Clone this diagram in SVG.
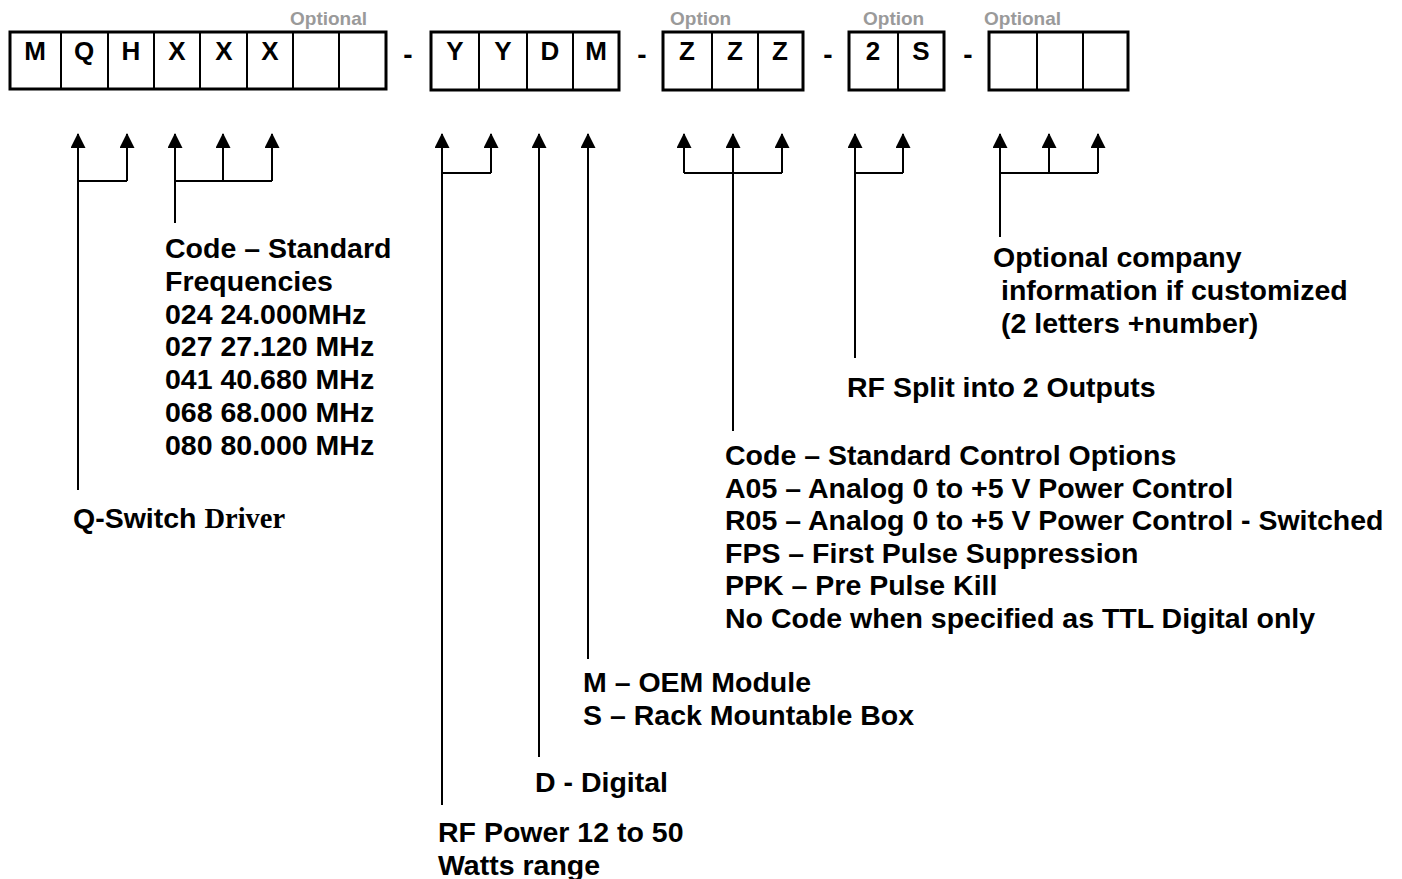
<svg xmlns="http://www.w3.org/2000/svg" width="1402" height="879" viewBox="0 0 1402 879">
<style>
text{font-family:"Liberation Sans",Arial,sans-serif;font-weight:bold;fill:#000}
.lbl{font-size:28.5px}
.cell{font-size:26px;text-anchor:middle}
.opt{font-size:19px;fill:#9a9a9a}
.dash{font-size:28px;text-anchor:middle}
.box{fill:#fff;stroke:#000;stroke-width:3}
.div{stroke:#000;stroke-width:2}
.con{fill:none;stroke:#000;stroke-width:2}
.tnr{font-family:"Liberation Serif","Times New Roman",serif}
</style>
<defs>
<marker id="ah" viewBox="0 0 15 15" refX="14" refY="7.5" markerWidth="15" markerHeight="15" markerUnits="userSpaceOnUse" orient="auto">
<path d="M0,0 L15,7.5 L0,15 Z" fill="#000"/>
</marker>
</defs>
<rect width="1402" height="879" fill="#fff"/>

<g id="node-mqh">
<rect class="box" x="10" y="32" width="376" height="57"/>
<path class="div" d="M61,32V89M108,32V89M154,32V89M200,32V89M247,32V89M293,32V89M339,32V89"/>
<text class="cell" x="35" y="60">M</text>
<text class="cell" x="84" y="60">Q</text>
<text class="cell" x="131" y="60">H</text>
<text class="cell" x="177" y="60">X</text>
<text class="cell" x="224" y="60">X</text>
<text class="cell" x="270" y="60">X</text>
<text class="opt" x="290" y="25">Optional</text>
</g>
<text class="dash" x="408" y="64">-</text>
<g id="node-yydm">
<rect class="box" x="431" y="32" width="188" height="58"/>
<path class="div" d="M479,32V90M527,32V90M573,32V90"/>
<text class="cell" x="455" y="60">Y</text>
<text class="cell" x="503" y="60">Y</text>
<text class="cell" x="550" y="60">D</text>
<text class="cell" x="596" y="60">M</text>
</g>
<text class="dash" x="642" y="64">-</text>
<g id="node-zzz">
<rect class="box" x="663" y="32" width="140" height="58"/>
<path class="div" d="M712,32V90M758,32V90"/>
<text class="cell" x="687" y="60">Z</text>
<text class="cell" x="735" y="60">Z</text>
<text class="cell" x="780" y="60">Z</text>
<text class="opt" x="670" y="25">Option</text>
</g>
<text class="dash" x="828" y="64">-</text>
<g id="node-2s">
<rect class="box" x="849" y="32" width="95" height="58"/>
<path class="div" d="M898,32V90"/>
<text class="cell" x="873" y="60">2</text>
<text class="cell" x="921" y="60">S</text>
<text class="opt" x="863" y="25">Option</text>
</g>
<text class="dash" x="968" y="64">-</text>
<g id="node-custom">
<rect class="box" x="989" y="32" width="139" height="58"/>
<path class="div" d="M1037,32V90M1083,32V90"/>
<text class="opt" x="984" y="25">Optional</text>
</g>

<g id="connectors">
<path class="con" d="M78,490V134" marker-end="url(#ah)"/>
<path class="con" d="M127,181V134" marker-end="url(#ah)"/>
<path class="con" d="M78,181H127"/>
<path class="con" d="M175,223V134" marker-end="url(#ah)"/>
<path class="con" d="M223,181V134" marker-end="url(#ah)"/>
<path class="con" d="M272,181V134" marker-end="url(#ah)"/>
<path class="con" d="M175,181H272"/>
<path class="con" d="M442,805V134" marker-end="url(#ah)"/>
<path class="con" d="M491,173V134" marker-end="url(#ah)"/>
<path class="con" d="M442,173H491"/>
<path class="con" d="M539,757V134" marker-end="url(#ah)"/>
<path class="con" d="M588,659V134" marker-end="url(#ah)"/>
<path class="con" d="M684,173V134" marker-end="url(#ah)"/>
<path class="con" d="M733,431V134" marker-end="url(#ah)"/>
<path class="con" d="M782,173V134" marker-end="url(#ah)"/>
<path class="con" d="M684,173H782"/>
<path class="con" d="M855,358V134" marker-end="url(#ah)"/>
<path class="con" d="M903,173V134" marker-end="url(#ah)"/>
<path class="con" d="M855,173H903"/>
<path class="con" d="M1000,237V134" marker-end="url(#ah)"/>
<path class="con" d="M1049,173V134" marker-end="url(#ah)"/>
<path class="con" d="M1098,173V134" marker-end="url(#ah)"/>
<path class="con" d="M1000,173H1098"/>
</g>

<g id="label-qswitch">
<text class="lbl" x="73" y="528">Q-Switch <tspan class="tnr">Driver</tspan></text>
</g>
<g id="label-freq">
<text class="lbl" x="165" y="258">Code – Standard</text>
<text class="lbl" x="165" y="291">Frequencies</text>
<text class="lbl" x="165" y="324">024 24.000MHz</text>
<text class="lbl" x="165" y="356">027 27.120 MHz</text>
<text class="lbl" x="165" y="389">041 40.680 MHz</text>
<text class="lbl" x="165" y="422">068 68.000 MHz</text>
<text class="lbl" x="165" y="455">080 80.000 MHz</text>
</g>
<g id="label-rfpower">
<text class="lbl" x="438" y="842">RF Power 12 to 50</text>
<text class="lbl" x="438" y="875">Watts range</text>
</g>
<g id="label-digital">
<text class="lbl" x="535" y="792">D - Digital</text>
</g>
<g id="label-module">
<text class="lbl" x="583" y="692">M – OEM Module</text>
<text class="lbl" x="583" y="725">S – Rack Mountable Box</text>
</g>
<g id="label-control">
<text class="lbl" x="725" y="465">Code – Standard Control Options</text>
<text class="lbl" x="725" y="498">A05 – Analog 0 to +5 V Power Control</text>
<text class="lbl" x="725" y="530">R05 – Analog 0 to +5 V Power Control - Switched</text>
<text class="lbl" x="725" y="563">FPS – First Pulse Suppression</text>
<text class="lbl" x="725" y="595">PPK – Pre Pulse Kill</text>
<text class="lbl" x="725" y="628">No Code when specified as TTL Digital only</text>
</g>
<g id="label-split">
<text class="lbl" x="847" y="397">RF Split into 2 Outputs</text>
</g>
<g id="label-company">
<text class="lbl" x="993" y="267">Optional company</text>
<text class="lbl" x="1001" y="300">information if customized</text>
<text class="lbl" x="1001" y="333">(2 letters +number)</text>
</g>
</svg>
